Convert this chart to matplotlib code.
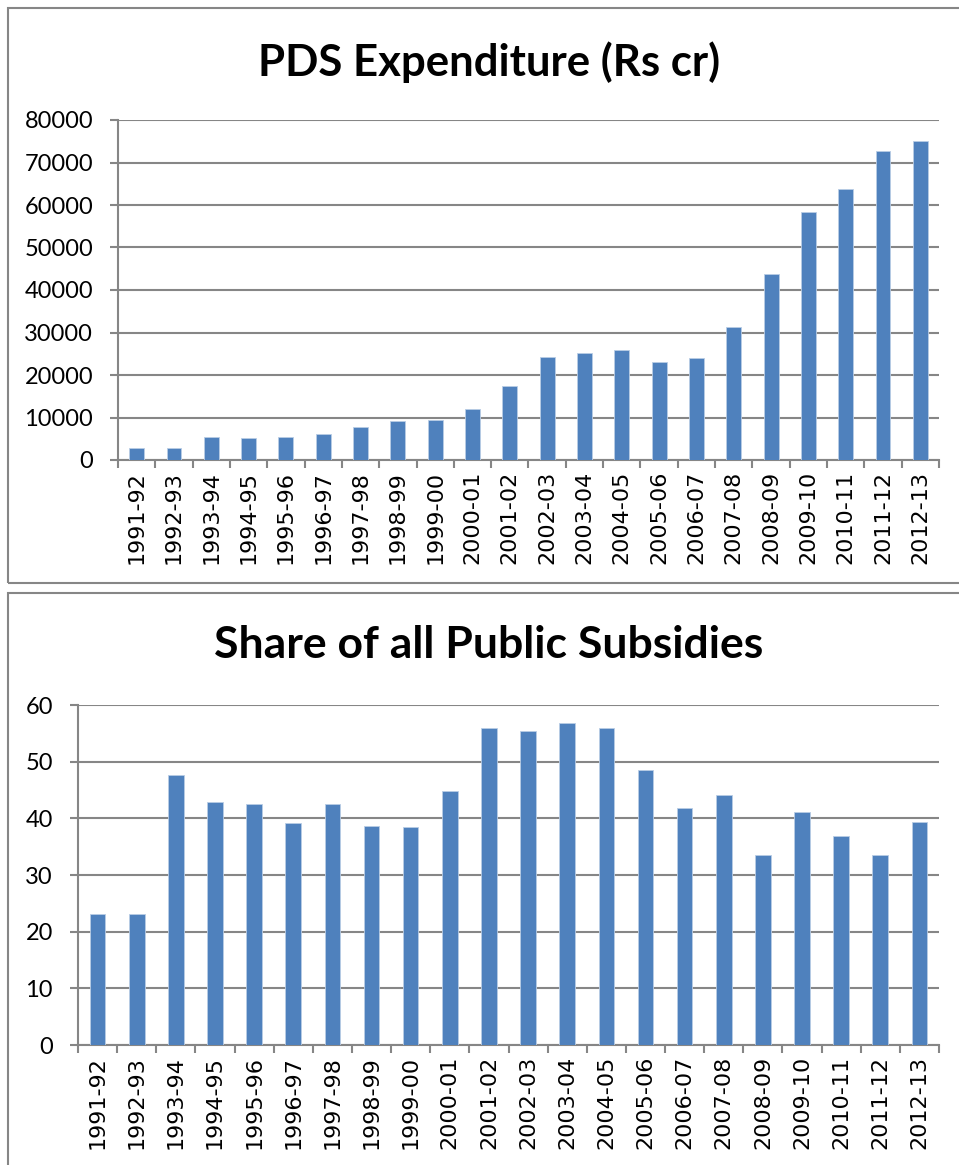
import matplotlib
matplotlib.use('Agg')
import matplotlib.pyplot as plt
from matplotlib.patches import Rectangle
from matplotlib.font_manager import FontProperties
import numpy as np

plt.rcParams['font.family'] = ['Lato', 'DejaVu Sans']

years = ['1991-92', '1992-93', '1993-94', '1994-95', '1995-96', '1996-97',
         '1997-98', '1998-99', '1999-00', '2000-01', '2001-02', '2002-03',
         '2003-04', '2004-05', '2005-06', '2006-07', '2007-08', '2008-09',
         '2009-10', '2010-11', '2011-12', '2012-13']

pds_expenditure = [2900, 2750, 5490, 5100, 5330, 6120, 7840, 9100, 9410, 11920,
                   17490, 24160, 25180, 25800, 23060, 24000, 31290, 43760,
                   58430, 63850, 72790, 74980]

subsidy_share = [23.2, 23.2, 47.6, 42.9, 42.5, 39.1, 42.5, 38.6, 38.5, 44.9,
                 56.0, 55.5, 56.8, 56.0, 48.5, 41.9, 44.1, 33.6, 41.2, 36.8,
                 33.6, 39.4]

W, H = 959, 1165
BAR = '#4F81BD'
GRID = '#868686'
xlab_font = FontProperties(family='DejaVu Sans', size=16)


def px_axes(fig, left, right, top, bottom):
    return fig.add_axes([left / W, 1 - bottom / H, (right - left) / W, (bottom - top) / H])


def draw_bars(ax, values, ymax, step):
    x = np.arange(len(years))
    ax.bar(x, values, width=0.4, color=BAR, edgecolor='#B9CDE5', linewidth=0.6, zorder=3)
    ax.set_xlim(-0.5, len(years) - 0.5)
    ax.set_ylim(0, ymax)
    ax.set_yticks(np.arange(0, ymax + step, step))
    ax.yaxis.grid(True, color=GRID, linewidth=1.5, zorder=0)
    ax.set_axisbelow(True)
    for s in ['top', 'right']:
        ax.spines[s].set_visible(False)
    for s in ['left', 'bottom']:
        ax.spines[s].set_color(GRID)
        ax.spines[s].set_linewidth(1.5)
    ax.set_xticks(x)
    ax.set_xticks(np.arange(-0.5, len(years)), minor=True)
    ax.tick_params(axis='x', which='major', length=0, pad=8)
    ax.tick_params(axis='x', which='minor', length=6, width=1.5, color=GRID)
    ax.tick_params(axis='y', length=6, width=1.5, color=GRID, pad=12, labelsize=17)
    ax.set_xticklabels(years, rotation=90, fontproperties=xlab_font)


fig = plt.figure(figsize=(W / 100, H / 100), dpi=100)

# chart frames (right side runs off the image like the original screenshot)
fig.patches.append(Rectangle((8 / W, 1 - 583 / H), 1.0, 575 / H, transform=fig.transFigure,
                             fill=False, edgecolor=GRID, linewidth=1.5))
fig.patches.append(Rectangle((8 / W, -0.1), 1.0, 1 - 593 / H + 0.1, transform=fig.transFigure,
                             fill=False, edgecolor=GRID, linewidth=1.5))

ax1 = px_axes(fig, 118, 939, 120, 460)
draw_bars(ax1, pds_expenditure, 80000, 10000)
fig.text(489 / W, 1 - 62 / H, 'PDS Expenditure (Rs cr)', ha='center', va='center',
         fontsize=31.5, fontweight='bold')

ax2 = px_axes(fig, 78, 939, 705, 1045)
draw_bars(ax2, subsidy_share, 60, 10)
fig.text(489 / W, 1 - 645 / H, 'Share of all Public Subsidies', ha='center', va='center',
         fontsize=32, fontweight='bold')

fig.savefig('out.png', dpi=100)
